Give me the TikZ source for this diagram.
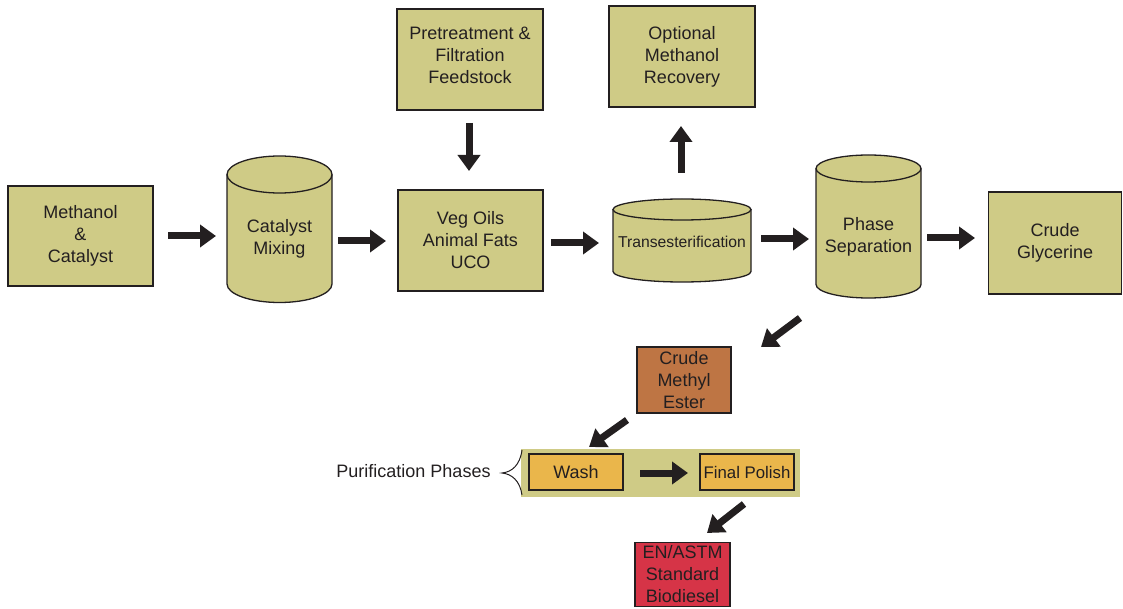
\documentclass[tikz,border=0pt]{standalone}
\usepackage{fontspec}
\setmainfont{Liberation Sans}
\usetikzlibrary{arrows.meta}
\definecolor{olivefill}{HTML}{CFCB86}
\definecolor{brownfill}{HTML}{BE7544}
\definecolor{orangefill}{HTML}{EAB64B}
\definecolor{redfill}{HTML}{D63447}
\definecolor{ink}{HTML}{231F20}
\newcommand\drawcyl[5]{%
  \fill[olivefill] ({#1-#2},#3) -- ({#1-#2},#4) arc[start angle=180,end angle=360,x radius=#2,y radius=#5] -- ({#1+#2},#3) arc[start angle=0,end angle=180,x radius=#2,y radius=#5] -- cycle;
  \draw[edge] ({#1-#2},#3) -- ({#1-#2},#4) arc[start angle=180,end angle=360,x radius=#2,y radius=#5] -- ({#1+#2},#3);
  \draw[edge] (#1,#3) ellipse[x radius=#2,y radius=#5];
}
\begin{document}
\begin{tikzpicture}[x=1pt,y=1pt,
  edge/.style={draw=ink,line width=1.3pt},
  box/.style={edge, fill=olivefill, inner sep=0pt, align=center, text=ink, font=\fontsize{18}{22}\selectfont},
  lbl/.style={inner sep=0pt, align=center, text=ink, font=\fontsize{18}{22}\selectfont},
  blk/.style={draw=ink, line width=7pt, -{Triangle[length=16pt,width=22pt]}}]
\useasboundingbox (0,0) rectangle (1123,608);

% boxes
\node[box, minimum width=145pt, minimum height=100pt] (mc) at (80.5,372) {Methanol\\\&\\Catalyst};
\node[box, minimum width=146pt, minimum height=101pt] (pre) at (470,548.5) {};
\node[lbl] (pretxt) at (470,552.5) {Pretreatment \&\\Filtration\\Feedstock};
\node[box, minimum width=145pt, minimum height=101pt] (vo) at (470.5,367.5) {Veg Oils\\Animal Fats\\UCO};
\node[box, minimum width=146pt, minimum height=101pt] (omr) at (682,551.5) {Optional\\Methanol\\Recovery};
\node[box, minimum width=133pt, minimum height=102pt] (cg) at (1055,365) {Crude\\Glycerine};
\node[box, fill=brownfill, minimum width=94pt, minimum height=66pt] (cme) at (684,228) {Crude\\Methyl\\Ester};
\node[fill=olivefill, minimum width=279pt, minimum height=48pt, inner sep=0pt] (band) at (660.5,135) {};
\node[box, fill=orangefill, minimum width=94pt, minimum height=36pt] (wash) at (576,136) {Wash};
\node[box, fill=orangefill, minimum width=94pt, minimum height=36pt, font=\fontsize{16.8}{20}\selectfont] (fp) at (747,136) {Final Polish};
\node[box, fill=redfill, minimum width=95pt, minimum height=64pt] (en) at (682.5,33.5) {EN/ASTM\\Standard\\Biodiesel};

% cylinders
\drawcyl{279.5}{52.5}{433.5}{324}{18.5}
\node[lbl] (cm) at (279.5,369.5) {Catalyst\\Mixing};
\drawcyl{682}{69}{398.5}{336.5}{10.5}
\node[lbl, font=\fontsize{15.7}{19}\selectfont] (tr) at (682,366) {Transesterification};
\drawcyl{868.5}{52.5}{439.5}{323.5}{13.5}
\node[lbl] (ps) at (868.5,371) {Phase\\Separation};

% purification label and brace
\node[lbl] (pp) at (413.5,137) {Purification Phases};
\draw[draw=ink, line width=1pt] (522,158) .. controls (520,143) and (512,136) .. (502,135) .. controls (512,134) and (520,127) .. (522,113);

% arrow end points
\coordinate (a1s) at (168,372); \coordinate (a1e) at (216,372);
\coordinate (a2s) at (338,367); \coordinate (a2e) at (386,367);
\coordinate (a3s) at (551,365); \coordinate (a3e) at (599,365);
\coordinate (a4s) at (761,369); \coordinate (a4e) at (809,369);
\coordinate (a5s) at (927,370); \coordinate (a5e) at (975,370);
\coordinate (dns) at (469,485); \coordinate (dne) at (469,437);
\coordinate (ups) at (681,435); \coordinate (upe) at (681,482);
\coordinate (d1s) at (800,290); \coordinate (d1e) at (761,261);
\coordinate (d2s) at (627,188); \coordinate (d2e) at (589,161);
\coordinate (wfs) at (640,135); \coordinate (wfe) at (688,135);
\coordinate (d3s) at (744,104); \coordinate (d3e) at (707,75);

\draw[blk] (a1s) -- (a1e);
\draw[blk] (a2s) -- (a2e);
\draw[blk] (a3s) -- (a3e);
\draw[blk] (a4s) -- (a4e);
\draw[blk] (a5s) -- (a5e);
\draw[blk] (dns) -- (dne);
\draw[blk] (ups) -- (upe);
\draw[blk] (d1s) -- (d1e);
\draw[blk] (d2s) -- (d2e);
\draw[blk] (wfs) -- (wfe);
\draw[blk] (d3s) -- (d3e);
\end{tikzpicture}
\end{document}
